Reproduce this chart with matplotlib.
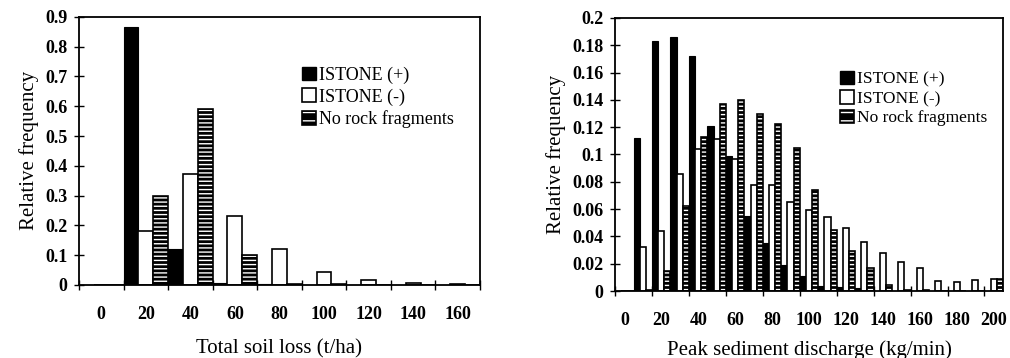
import matplotlib
matplotlib.use("Agg")
import matplotlib.pyplot as plt
from matplotlib.patches import Patch
import numpy as np

plt.rcParams['font.family'] = ['Liberation Serif', 'DejaVu Serif']
plt.rcParams['hatch.linewidth'] = 1.0

# classes (lower bound of each bin)
soil_classes = [0, 20, 40, 60, 80, 100, 120, 140, 160]
peak_classes = [0, 10, 20, 30, 40, 50, 60, 70, 80, 90, 100,
                110, 120, 130, 140, 150, 160, 170, 180, 190, 200]

series_names = ['ISTONE (+)', 'ISTONE (-)', 'No rock fragments']

# total soil loss, relative frequency
soil_plus = [0, 0.865, 0.122, 0.005, 0.002, 0.001, 0, 0, 0]
soil_minus = [0, 0.18, 0.373, 0.23, 0.12, 0.045, 0.018, 0.005, 0.003]
soil_none = [0, 0.30, 0.59, 0.10, 0.004, 0.002, 0, 0, 0]

# peak sediment discharge, relative frequency
peak_plus = [0, 0.112, 0.183, 0.186, 0.172, 0.121, 0.099, 0.055, 0.035, 0.019, 0.011,
             0.004, 0.003, 0.002, 0, 0, 0, 0, 0, 0, 0]
peak_minus = [0, 0.032, 0.044, 0.086, 0.104, 0.111, 0.097, 0.078, 0.078, 0.065, 0.059,
              0.054, 0.046, 0.036, 0.028, 0.0215, 0.0166, 0.0076, 0.0063, 0.008, 0.0085]
peak_none = [0, 0.001, 0.015, 0.062, 0.113, 0.137, 0.140, 0.130, 0.122, 0.105, 0.074,
             0.045, 0.029, 0.017, 0.0044, 0.001, 0.001, 0, 0, 0, 0.0085]


def hist_panel(ax, classes, plus, minus, none, ymax, ystep, label_every, xlabel, xpad):
    n = len(classes)
    x = np.arange(n)
    w = 1 / 3
    ax.bar(x, plus, w, align='edge', color='black', edgecolor='black', linewidth=0.8)
    ax.bar(x + w, minus, w, align='edge', color='white', edgecolor='black', linewidth=1.2)
    ax.bar(x + 2 * w, none, w, align='edge', color='black', edgecolor='white',
           hatch='----', linewidth=0)
    ax.bar(x + 2 * w, none, w, align='edge', fill=False, edgecolor='black', linewidth=1.2)

    ax.set_xlim(0, n)
    ax.set_ylim(0, ymax)
    ax.set_xticks(np.arange(0, n + 1, label_every))
    ax.set_xticklabels([])
    ax.set_xticks(x[::label_every] + 0.5, minor=True)
    ax.set_xticklabels([str(c) for c in classes[::label_every]], minor=True)
    ax.tick_params(axis='x', which='minor', length=0, pad=15, labelsize=13)
    ax.tick_params(axis='x', which='major', direction='inout', length=7, width=1)
    yt = np.arange(0, ymax + ystep / 2, ystep)
    ax.set_yticks(yt)
    ax.set_yticklabels(['%g' % round(v, 3) for v in yt])
    ax.tick_params(axis='y', direction='inout', length=7, width=1, labelsize=13, pad=5)
    for lab in ax.get_xticklabels(minor=True) + ax.get_yticklabels():
        lab.set_fontweight('bold')
    for s in ax.spines.values():
        s.set_linewidth(1.3)
    ax.set_ylabel('Relative frequency', fontsize=15)
    ax.set_xlabel(xlabel, fontsize=15, labelpad=xpad)


fig = plt.figure(figsize=(10.1, 3.58), dpi=100)
ax1 = fig.add_axes([0.0782, 0.204, 0.397, 0.749])
ax2 = fig.add_axes([0.609, 0.187, 0.384, 0.763])

hist_panel(ax1, soil_classes, soil_plus, soil_minus, soil_none, 0.9, 0.1, 1,
           'Total soil loss (t/ha)', 12)
hist_panel(ax2, peak_classes, peak_plus, peak_minus, peak_none, 0.2, 0.02, 2,
           'Peak sediment discharge (kg/min)', 8)

h_plus = Patch(facecolor='black', edgecolor='black')
h_minus = Patch(facecolor='white', edgecolor='black', linewidth=1.2)
h_none = (Patch(facecolor='black', edgecolor='white', hatch='--', linewidth=0),
          Patch(fill=False, edgecolor='black', linewidth=1.2))
for ax, anchor, fs, sp in [(ax1, (0.555, 0.815), 13, 0.25), (ax2, (0.58, 0.805), 12.5, 0.15)]:
    ax.legend([h_plus, h_minus, h_none], series_names, loc='upper left',
              bbox_to_anchor=anchor, frameon=False, fontsize=fs,
              handlelength=0.8, handleheight=0.8, handletextpad=0.15,
              labelspacing=sp, borderpad=0, borderaxespad=0)

fig.savefig('out.png', dpi=100)
